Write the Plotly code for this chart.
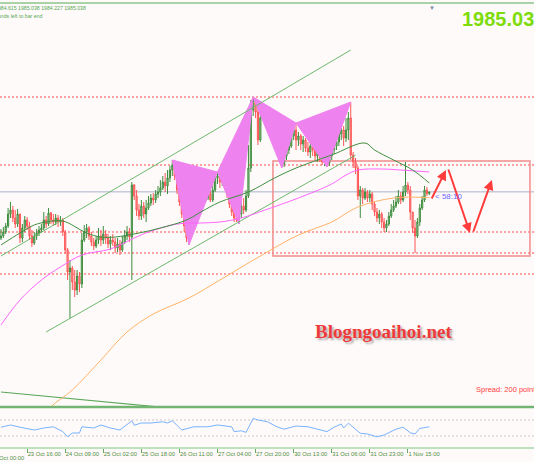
import plotly.graph_objects as go

# ---------------- data ----------------
first_open = 1973.5
closes = [1974.0, 1975.0, 1976.5, 1979.5, 1980.5, 1978.5, 1977.0, 1979.5, 1973.5, 1976.0,
          1978.0, 1976.5, 1974.0, 1972.25, 1974.0, 1974.75, 1975.5, 1976.0, 1978.0, 1977.0,
          1979.75, 1978.0, 1977.5, 1978.5, 1977.5, 1978.0, 1975.0, 1970.5, 1965.0, 1966.0,
          1962.5, 1960.5, 1964.0, 1962.0, 1973.0, 1975.0, 1976.0, 1974.0, 1972.5, 1971.5,
          1973.0, 1974.0, 1973.0, 1974.5, 1973.5, 1972.0, 1973.0, 1972.5, 1971.0, 1972.0,
          1970.5, 1972.5, 1974.0, 1975.0, 1973.75, 1986.75, 1984.0, 1980.5, 1979.0, 1981.5,
          1979.5, 1981.0, 1982.25, 1983.5, 1983.0, 1984.5, 1985.0, 1986.0, 1987.5, 1986.5,
          1988.5, 1990.5, 1991.75, 1989.0, 1985.5, 1982.5, 1979.5, 1976.5, 1973.5, 1975.0,
          1980.0, 1986.5, 1984.5, 1986.0, 1984.0, 1985.5, 1983.5, 1984.5, 1983.0, 1985.5,
          1988.5, 1989.0, 1987.5, 1988.5, 1986.5, 1984.5, 1982.0, 1980.0, 1978.5, 1978.0,
          1979.5, 1981.5, 1980.5, 1984.0, 1991.0, 2005.5, 2008.0, 2005.0, 1998.0, 2003.5,
          2005.5, 2004.0, 2002.5, 2001.0, 2002.0, 2000.0, 1998.0, 1995.5, 1992.0, 1994.0,
          1995.5, 1996.5, 1999.0, 2000.5, 1998.0, 1999.0, 1997.0, 1998.0, 1996.0, 1995.0,
          1996.5, 1995.5, 1994.0, 1995.0, 1993.5, 1992.5, 1993.5, 1992.25, 1994.0, 1995.5,
          1996.5, 1997.5, 1999.5, 2000.5, 1998.5, 2000.5, 2003.5, 1994.25, 1992.5, 1991.0,
          1984.0, 1985.5, 1983.5, 1985.0, 1983.5, 1984.5, 1982.0, 1980.0, 1978.5, 1979.5,
          1977.5, 1976.0, 1977.0, 1979.0, 1980.5, 1981.5, 1982.5, 1984.0, 1983.0, 1985.0,
          1986.75, 1985.5, 1980.0, 1976.0, 1974.0, 1977.5, 1981.0, 1983.0, 1985.5, 1984.615,
          1985.038]
highs = [1975.75, 1976.25, 1977.25, 1981.0, 1982.5, 1981.5, 1980.5, 1980.75, 1979.5, 1977.0,
         1979.0, 1978.75, 1977.5, 1975.5, 1975.0, 1975.75, 1976.5, 1977.0, 1980.0, 1979.0,
         1981.0, 1980.0, 1979.5, 1979.5, 1979.25, 1979.0, 1978.5, 1975.5, 1971.0, 1968.0,
         1966.5, 1965.5, 1965.5, 1965.0, 1974.75, 1976.75, 1977.0, 1976.5, 1975.0, 1973.5,
         1974.0, 1976.0, 1975.5, 1976.5, 1975.5, 1974.5, 1974.0, 1974.5, 1973.5, 1973.5,
         1973.0, 1974.0, 1975.5, 1976.5, 1976.0, 1987.5, 1987.0, 1985.5, 1982.0, 1983.0,
         1982.5, 1983.0, 1984.0, 1984.5, 1984.75, 1985.5, 1986.5, 1988.0, 1989.0, 1989.75,
         1990.5, 1991.5, 1993.0, 1992.75, 1990.0, 1986.5, 1983.5, 1980.5, 1977.5, 1976.0,
         1981.0, 1989.0, 1987.5, 1987.0, 1986.5, 1986.5, 1986.0, 1986.0, 1985.5, 1987.0,
         1989.5, 1990.0, 1989.5, 1989.5, 1989.0, 1987.5, 1985.5, 1983.0, 1981.0, 1980.0,
         1981.0, 1983.0, 1983.5, 1985.5, 1996.75, 2008.0, 2008.75, 2008.5, 2006.5, 2005.5,
         2007.0, 2006.0, 2005.0, 2003.5, 2003.0, 2002.5, 2001.0, 1999.0, 1996.0, 1995.0,
         1996.5, 1998.0, 2000.0, 2001.5, 2002.25, 2000.0, 1999.5, 1999.0, 1998.5, 1997.5,
         1997.5, 1997.0, 1996.5, 1996.0, 1995.5, 1995.0, 1994.5, 1995.0, 1995.5, 1997.0,
         1998.5, 1999.5, 2001.0, 2002.0, 2001.5, 2003.5, 2005.0, 2007.5, 1995.0, 1993.5,
         1991.5, 1986.5, 1986.0, 1986.0, 1985.5, 1985.5, 1985.0, 1982.5, 1981.0, 1980.5,
         1980.0, 1978.5, 1978.0, 1980.0, 1982.0, 1983.0, 1984.0, 1985.5, 1985.0, 1986.5,
         1992.5, 1987.5, 1986.5, 1980.0, 1978.0, 1978.5, 1982.0, 1984.0, 1986.5, 1986.25,
         1985.038]
lows = [1973.0, 1973.5, 1974.5, 1976.0, 1978.5, 1977.5, 1976.0, 1976.25, 1972.25, 1972.5,
        1975.0, 1975.5, 1973.0, 1971.25, 1971.75, 1973.0, 1974.0, 1974.75, 1975.5, 1976.0,
        1976.5, 1977.0, 1976.5, 1976.75, 1976.25, 1976.5, 1974.0, 1969.5, 1963.0, 1953.5,
        1960.5, 1958.75, 1959.25, 1960.0, 1961.0, 1972.5, 1973.5, 1973.0, 1971.5, 1970.5,
        1971.0, 1972.0, 1971.5, 1972.0, 1972.0, 1971.0, 1970.5, 1971.5, 1969.75, 1970.0,
        1969.25, 1970.0, 1972.0, 1973.0, 1972.5, 1963.0, 1983.0, 1979.0, 1978.0, 1978.0,
        1978.5, 1977.5, 1980.5, 1981.5, 1981.75, 1982.25, 1983.5, 1984.0, 1985.5, 1985.0,
        1984.5, 1987.5, 1989.0, 1988.0, 1984.5, 1981.5, 1978.5, 1975.0, 1972.5, 1971.75,
        1974.0, 1979.5, 1983.5, 1983.5, 1983.0, 1983.0, 1982.5, 1983.0, 1982.5, 1982.5,
        1985.0, 1987.0, 1986.0, 1986.5, 1985.5, 1983.5, 1981.0, 1979.0, 1977.5, 1977.5,
        1977.0, 1978.5, 1979.5, 1980.0, 1983.5, 1990.0, 2004.0, 2003.5, 1996.75, 1997.5,
        2003.0, 2003.0, 2001.5, 2000.0, 1999.5, 1999.0, 1997.25, 1994.0, 1991.0, 1991.25,
        1993.0, 1994.5, 1996.0, 1998.0, 1995.5, 1996.5, 1995.5, 1995.0, 1995.0, 1994.0,
        1993.5, 1994.0, 1993.0, 1992.5, 1992.5, 1991.75, 1991.5, 1991.25, 1991.5, 1993.0,
        1994.5, 1995.5, 1996.5, 1998.0, 1996.5, 1997.5, 1998.0, 1993.0, 1991.0, 1989.5,
        1983.0, 1978.5, 1982.0, 1983.0, 1982.5, 1982.5, 1980.5, 1979.0, 1977.5, 1977.0,
        1976.0, 1975.0, 1975.0, 1976.5, 1978.5, 1980.0, 1981.0, 1982.0, 1982.0, 1982.5,
        1984.0, 1984.5, 1978.0, 1974.75, 1969.75, 1973.5, 1976.5, 1980.5, 1982.5, 1984.0,
        1984.227]

# moving averages (bar index, price)
ma_green_bars = [0, 8, 14, 19, 26, 36, 42, 48, 58, 67, 78, 84, 92, 104, 115, 124, 139, 153, 157, 165, 173, 180]
ma_green_vals = [1971.75, 1974.75, 1976.75, 1977.5, 1977.75, 1974.75, 1973.75, 1973.75, 1974.75, 1976.0,
                 1978.0, 1980.0, 1982.5, 1985.0, 1988.5, 1991.0, 1994.25, 1997.25, 1995.5, 1993.0, 1990.5, 1987.25]
ma_pink_bars = [0, 8, 17, 25, 34, 46, 56, 62, 74, 84, 92, 101, 111, 125, 139, 145, 150, 160, 168, 180]
ma_pink_vals = [1951.75, 1958.0, 1963.0, 1966.25, 1969.25, 1970.75, 1973.5, 1975.0, 1977.0, 1977.25,
                1977.5, 1978.5, 1980.5, 1983.5, 1987.0, 1989.25, 1990.5, 1990.75, 1990.5, 1990.0]
ma_orange_bars = [18, 21, 30, 42, 53, 64, 79, 92, 109, 125, 139, 150, 165, 180]
ma_orange_vals = [1928.5, 1931.25, 1935.5, 1943.0, 1950.0, 1954.5, 1958.5, 1963.0, 1969.0, 1974.25,
                  1977.5, 1981.25, 1983.5, 1983.6]

# RSI (bar index, value)
rsi_bars = [0, 4, 8, 14, 18, 22, 26, 28, 30, 33, 34, 39, 42, 46, 50, 55, 56, 59, 63, 68, 70, 72, 76, 81,
            87, 91, 97, 98, 101, 103, 106, 108, 112, 116, 119, 124, 129, 133, 137, 140, 143, 144, 146,
            151, 154, 158, 161, 166, 169, 172, 174, 176, 180]
rsi_vals = [52, 57.5, 52, 45, 50, 53, 41, 28, 37.5, 37.5, 53, 50, 57.5, 50, 45, 68, 57, 62.5, 62.5, 65.5,
            62.5, 68, 45, 53, 53, 57.5, 53, 41, 43, 39, 74, 70, 65.5, 53, 47, 55, 53, 47, 41, 52, 60, 50,
            62, 37, 35, 28, 32.5, 47, 52, 38, 35, 49, 53]
rsi_levels = [70, 30]

# drawn objects: trend lines (bar, price)
upper_channel = ([0, 147], [1969.0, 2020.5])
lower_channel = ([19, 149], [1950.0, 1994.2])
long_line = ([0, 80], [1935.0, 1930.5])
# harmonic patterns: X, A, B, C, D
pattern1_bars = [72, 79, 91, 100, 106]
pattern1_vals = [1993.0, 1971.75, 1990.0, 1977.0, 2008.75]
pattern2_bars = [106, 118, 124, 137, 147]
pattern2_vals = [2008.75, 1991.0, 2002.25, 1991.25, 2007.5]
# horizontal levels
levels = [2008.75, 1991.75, 1975.0, 1969.75, 1964.5]
current_price = 1985.038
box_bars = [114.3, 222.3]
box_vals = [1969.0, 1992.75]
# projected path arrows (tail bar, tail price, head bar, head price)
arrows = [(180.7, 1983.0, 187.0, 1990.5),
          (187.8, 1991.0, 197.1, 1974.75),
          (198.3, 1974.75, 206.3, 1988.0)]

tick_bars = [11, 27, 43, 59, 75, 91, 107, 123, 139, 155, 171]
tick_labels = ["23 Oct 16:00", "24 Oct 09:00", "25 Oct 02:00", "25 Oct 18:00", "26 Oct 11:00",
               "27 Oct 04:00", "27 Oct 20:00", "30 Oct 13:00", "31 Oct 06:00", "31 Oct 23:00",
               "1 Nov 15:00"]
first_tick_bar = -5
first_tick_label = "23 Oct 00:00"

# ---------------- figure ----------------
n = len(closes)
bars = list(range(n))
opens = [first_open] + closes[:-1]
highs = [max(h, o, c) for h, o, c in zip(highs, opens, closes)]
lows = [min(l, o, c) for l, o, c in zip(lows, opens, closes)]

BG = "#fffafa"
X_RANGE = [-0.4, 224.0]
Y_RANGE = [1931.25, 2032.25]
MAIN_BOTTOM = 0.0921
SUB_TOP = 0.0899
TICK_COLOR = "#4e8f3e"

fig = go.Figure()

violet = "#ee82ee"
for bx, vy in ((pattern1_bars, pattern1_vals), (pattern2_bars, pattern2_vals)):
    for tri in ((0, 1, 2), (2, 3, 4)):
        fig.add_trace(go.Scatter(x=[bx[k] for k in tri] + [bx[tri[0]]],
                                 y=[vy[k] for k in tri] + [vy[tri[0]]],
                                 mode="lines", fill="toself", fillcolor=violet,
                                 line=dict(color=violet, width=1), hoverinfo="skip",
                                 showlegend=False))

for (lx, ly) in (upper_channel, lower_channel):
    fig.add_trace(go.Scatter(x=lx, y=ly, mode="lines", line=dict(color="#6cb86c", width=1),
                             hoverinfo="skip", showlegend=False))
fig.add_trace(go.Scatter(x=long_line[0], y=long_line[1], mode="lines",
                         line=dict(color="#5aa85a", width=1.2), hoverinfo="skip", showlegend=False))

fig.add_trace(go.Scatter(x=ma_orange_bars, y=ma_orange_vals, mode="lines",
                         line=dict(color="#ffb266", width=1, shape="spline"), hoverinfo="skip", showlegend=False))
fig.add_trace(go.Scatter(x=ma_pink_bars, y=ma_pink_vals, mode="lines",
                         line=dict(color="#ff66ff", width=1, shape="spline"), hoverinfo="skip", showlegend=False))
fig.add_trace(go.Scatter(x=ma_green_bars, y=ma_green_vals, mode="lines",
                         line=dict(color="#3f8f3f", width=1, shape="spline"), hoverinfo="skip", showlegend=False))

fig.add_trace(go.Candlestick(x=bars, open=opens, high=highs, low=lows, close=closes,
                             increasing=dict(line=dict(color="#3d8c3d", width=1), fillcolor="#a8d5a8"),
                             decreasing=dict(line=dict(color="#ff5555", width=1), fillcolor="#f7a6a6"),
                             whiskerwidth=0, hoverinfo="skip", showlegend=False))

fig.add_trace(go.Scatter(x=rsi_bars, y=rsi_vals, mode="lines", xaxis="x2", yaxis="y2",
                         line=dict(color="#77b3ff", width=1), hoverinfo="skip", showlegend=False))

shapes = []
for lv in levels:
    shapes.append(dict(type="line", xref="paper", yref="y", x0=0, x1=1, y0=lv, y1=lv,
                       line=dict(color="#ff4a4a", width=1, dash="2px,2px"), layer="below"))
shapes.append(dict(type="line", xref="paper", yref="y", x0=0, x1=1, y0=current_price, y1=current_price,
                   line=dict(color="#a9b1c9", width=1), layer="below"))
shapes.append(dict(type="rect", xref="x", yref="y", x0=box_bars[0], x1=box_bars[1],
                   y0=box_vals[0], y1=box_vals[1], line=dict(color="#f28c8c", width=1.5), layer="below"))
for lv in rsi_levels:
    shapes.append(dict(type="line", xref="paper", yref="y2", x0=0, x1=1, y0=lv, y1=lv,
                       line=dict(color="#c8c8c8", width=1, dash="2px,2px"), layer="below"))
shapes.append(dict(type="line", xref="paper", yref="paper", x0=0, x1=1, y0=1.0, y1=1.0,
                   line=dict(color="#8cc48c", width=1.5)))
shapes.append(dict(type="line", xref="paper", yref="paper", x0=0, x1=1, y0=MAIN_BOTTOM, y1=MAIN_BOTTOM,
                   line=dict(color="#72b472", width=2.5)))
shapes.append(dict(type="line", xref="paper", yref="paper", x0=0, x1=1, y0=0, y1=0,
                   line=dict(color="#a8d8a8", width=1.5)))

annotations = []
for tb, tp, hb, hp in arrows:
    annotations.append(dict(x=hb, y=hp, ax=tb, ay=tp, xref="x", yref="y", axref="x", ayref="y",
                            text="", showarrow=True, arrowhead=2, arrowsize=1, arrowwidth=2,
                            arrowcolor="#ff3b3b"))
annotations += [
    dict(x=-7 / 534, y=1.0, xref="paper", yref="paper", xanchor="left", yanchor="top", showarrow=False,
         text="1984.615 1985.038 1984.227 1985.038", font=dict(family="Liberation Sans", size=5.2, color="#55a855")),
    dict(x=-13 / 534, y=0.981, xref="paper", yref="paper", xanchor="left", yanchor="top", showarrow=False,
         text="Seconds left to bar end", font=dict(family="Liberation Sans", size=5.2, color="#55a855")),
    dict(x=460 / 534, y=0.965, xref="paper", yref="paper", xanchor="left", yanchor="middle", showarrow=False,
         text="<b>1985.038</b>", font=dict(family="Liberation Sans", size=20, color="#7ddc0a")),
    dict(x=181.5, y=current_price - 1.2, xref="x", yref="y", xanchor="left", yanchor="middle", showarrow=False,
         text="< 58:10", font=dict(family="Liberation Sans", size=8, color="#6868ff")),
    dict(x=474 / 534, y=0.132, xref="paper", yref="paper", xanchor="left", yanchor="middle", showarrow=False,
         text="Spread: 200 points", font=dict(family="Liberation Sans", size=7.5, color="#ff4040")),
    dict(x=383 / 534, y=0.262, xref="paper", yref="paper", xanchor="center", yanchor="middle", showarrow=False,
         text="<b>Blogngoaihoi.net</b>",
         font=dict(family="Liberation Serif", size=19, color="#ee3a3a",
                   shadow="2px 2px 2px rgba(80,80,80,0.45)")),
    dict(x=(first_tick_bar - X_RANGE[0]) / (X_RANGE[1] - X_RANGE[0]), y=-0.012,
         xref="paper", yref="paper", xanchor="left", yanchor="top", showarrow=False,
         text=first_tick_label, font=dict(family="Liberation Sans", size=5.8, color=TICK_COLOR)),
    dict(x=432 / 534, y=1.003, xref="paper", yref="paper", xanchor="center", yanchor="top", showarrow=False,
         text="▼", font=dict(size=6, color="#7a86a6")),
]

fig.update_layout(
    width=534, height=462,
    margin=dict(l=0, r=0, t=3, b=14),
    paper_bgcolor=BG, plot_bgcolor=BG,
    showlegend=False,
    shapes=shapes, annotations=annotations,
    xaxis=dict(domain=[0, 1], range=X_RANGE, anchor="y", showticklabels=False, showgrid=False,
               zeroline=False, showline=False, ticks="", rangeslider=dict(visible=False), fixedrange=True),
    xaxis2=dict(domain=[0, 1], range=X_RANGE, anchor="y2", matches="x", showgrid=False, zeroline=False,
                showline=False, ticks="outside", ticklen=4, tickwidth=1, tickcolor="#6aa86a",
                tickvals=tick_bars, ticktext=tick_labels, ticklabelposition="outside right",
                tickangle=0, tickfont=dict(family="Liberation Sans", size=5.8, color=TICK_COLOR)),
    yaxis=dict(domain=[MAIN_BOTTOM, 1], range=Y_RANGE, visible=False, fixedrange=True),
    yaxis2=dict(domain=[0, SUB_TOP], range=[0, 100], visible=False, fixedrange=True),
)

fig.write_html("out.html", config={"displayModeBar": False, "staticPlot": True},
               post_script="document.body.style.margin='0';document.body.style.overflow='hidden';")
